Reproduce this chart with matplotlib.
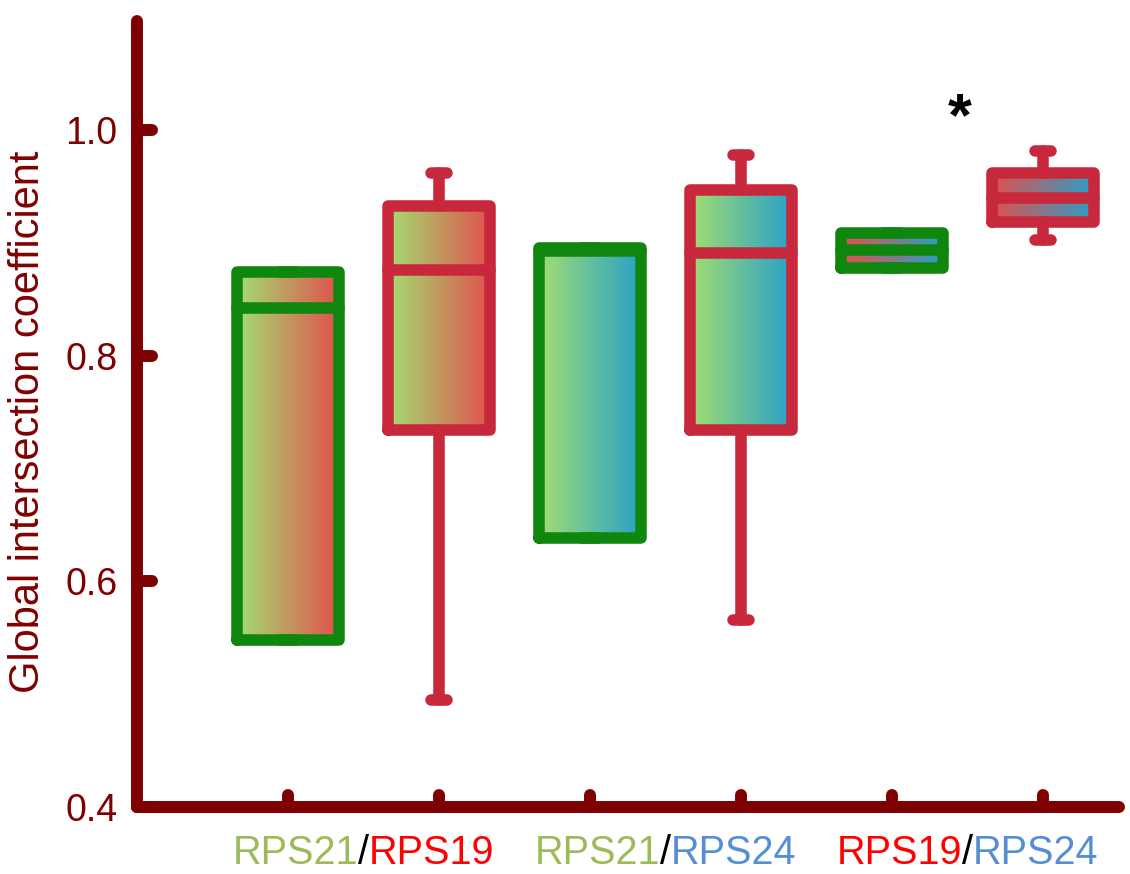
import numpy as np
import matplotlib

matplotlib.use("Agg")
import matplotlib.pyplot as plt
from matplotlib.colors import LinearSegmentedColormap
from matplotlib.markers import MarkerStyle, TICKRIGHT, TICKUP
from matplotlib.offsetbox import AnnotationBbox, HPacker, TextArea

plt.rcParams["font.family"] = ["Liberation Sans", "DejaVu Sans"]

# box statistics
positions = [1, 2, 3, 4, 5, 6]
q1 = [0.548, 0.734, 0.638, 0.734, 0.878, 0.918]
medians = [0.842, 0.876, 0.893, 0.891, 0.894, 0.940]
q3 = [0.874, 0.933, 0.895, 0.947, 0.909, 0.962]
whislo = [0.548, 0.495, 0.638, 0.566, 0.878, 0.902]
whishi = [0.874, 0.962, 0.895, 0.978, 0.909, 0.981]

y_ticks = [0.4, 0.6, 0.8, 1.0]
y_ticklabels = ["0.4", "0.6", "0.8", "1.0"]
pair_labels = [("RPS21", "RPS19"), ("RPS21", "RPS24"), ("RPS19", "RPS24")]
star_x, star_y = 5.45, 1.034

AXIS = "#7f0000"
EDGE_GREEN = "#0f870f"
EDGE_RED = "#c8283c"
GRAD = {
    "green": "#a2de72",
    "red": "#e2504c",
    "blue": "#28a0c8",
}
TEXT_COLORS = {"RPS21": "#9bbb59", "RPS19": "#ff0000", "RPS24": "#558ed5"}

edge_colors = [EDGE_GREEN, EDGE_RED, EDGE_GREEN, EDGE_RED, EDGE_GREEN, EDGE_RED]
gradients = [("green", "red"), ("green", "red"), ("green", "blue"),
             ("green", "blue"), ("red", "blue"), ("red", "blue")]
box_width = 0.68

fig = plt.figure(figsize=(11.3, 8.74), dpi=100)
ax = fig.add_axes([0.1212, 1 - 807 / 874, 0.869, 786 / 874])

# gradient fill inside each box
ramp = np.linspace(0, 1, 256).reshape(1, -1)
for pos, lo, hi, (c0, c1) in zip(positions, q1, q3, gradients):
    cmap = LinearSegmentedColormap.from_list("g", [GRAD[c0], GRAD[c1]])
    ax.imshow(ramp, cmap=cmap, aspect="auto", interpolation="bicubic",
              extent=[pos - box_width / 2, pos + box_width / 2, lo, hi], zorder=2)

stats = [
    {"q1": a, "med": m, "q3": b, "whislo": lo, "whishi": hi, "fliers": []}
    for a, m, b, lo, hi in zip(q1, medians, q3, whislo, whishi)
]
lw = 8.3
parts = ax.bxp(stats, positions=positions, widths=box_width, capwidths=0.1,
               showfliers=False, patch_artist=False, zorder=3)
for i, color in enumerate(edge_colors):
    artists = [parts["boxes"][i], parts["medians"][i],
               parts["whiskers"][2 * i], parts["whiskers"][2 * i + 1],
               parts["caps"][2 * i], parts["caps"][2 * i + 1]]
    for art in artists:
        art.set_color(color)
        art.set_linewidth(lw)
        art.set_solid_capstyle("round")
        art.set_solid_joinstyle("round")

ax.set_xlim(0, 6.503)
ax.set_ylim(0.4, 1.0965)

for side in ("top", "right"):
    ax.spines[side].set_visible(False)
for side in ("left", "bottom"):
    ax.spines[side].set_color(AXIS)
    ax.spines[side].set_linewidth(8.6)
    ax.spines[side].set_capstyle("round")

ax.set_yticks(y_ticks)
ax.set_yticklabels(y_ticklabels)
ax.set_xticks(positions)
ax.tick_params(axis="y", direction="in", length=11, width=8.6, color=AXIS,
               labelcolor=AXIS, labelsize=27, pad=14)
ax.tick_params(axis="x", direction="in", length=9, width=8.6, color=AXIS,
               labelbottom=False)
for tick in ax.yaxis.get_major_ticks():
    tick.tick1line.set_marker(MarkerStyle(TICKRIGHT, capstyle="round"))
for tick in ax.xaxis.get_major_ticks():
    tick.tick1line.set_marker(MarkerStyle(TICKUP, capstyle="round"))

ax.set_ylabel("Global intersection coefficient", color=AXIS, fontsize=30)
ax.yaxis.set_label_coords(-0.091, 0.49)

# coloured pair labels under the axis
for k, (a, b) in enumerate(pair_labels):
    parts_txt = [
        TextArea(a, textprops=dict(color=TEXT_COLORS[a], fontsize=28.5)),
        TextArea("/", textprops=dict(color="black", fontsize=28.5)),
        TextArea(b, textprops=dict(color=TEXT_COLORS[b], fontsize=28.5)),
    ]
    pack = HPacker(children=parts_txt, pad=0, sep=0, align="baseline")
    xc = (positions[2 * k] + positions[2 * k + 1]) / 2
    ab = AnnotationBbox(pack, (xc, -0.059), xycoords=("data", "axes fraction"),
                        frameon=False, box_alignment=(0.5, 0.5), annotation_clip=False)
    ax.add_artist(ab)

ax.text(star_x, star_y, "*", fontsize=44, fontweight="bold", color="black",
        ha="center", va="top")

fig.savefig("out.png", dpi=100)
